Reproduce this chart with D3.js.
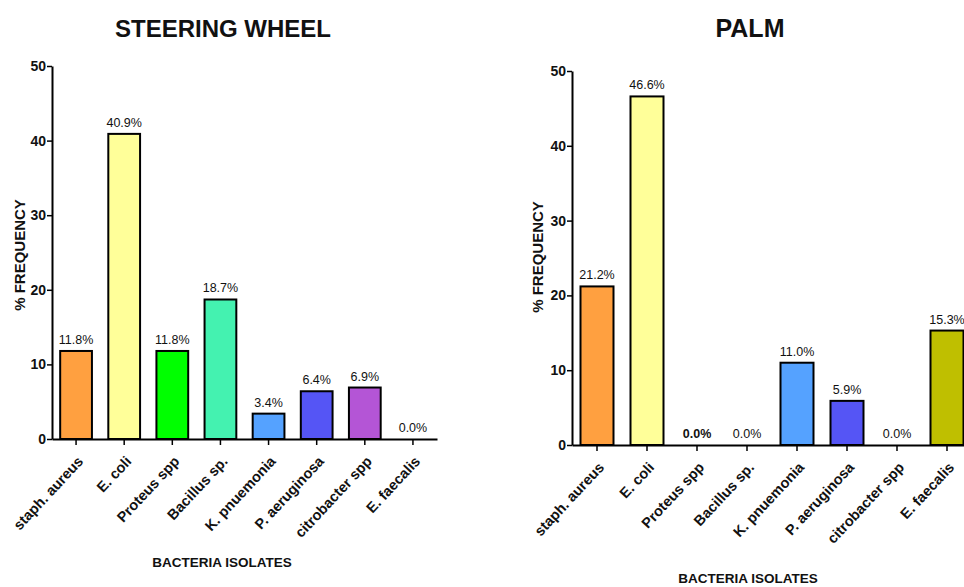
<!DOCTYPE html>
<html>
<head>
<meta charset="utf-8">
<script src="https://cdn.jsdelivr.net/npm/d3@7"></script>
<style>
  html, body { margin: 0; padding: 0; background: #fff; }
  svg { display: block; }
  text { font-family: "Liberation Sans", Arial, sans-serif; fill: #111; }
</style>
</head>
<body>
<svg id="chart" width="964" height="587"></svg>
<script>
const categories = ["staph. aureus", "E. coli", "Proteus spp", "Bacillus sp.", "K. pnuemonia", "P. aeruginosa", "citrobacter spp", "E. faecalis"];
const steeringValues = [11.8, 40.9, 11.8, 18.7, 3.4, 6.4, 6.9, 0.0];
const palmValues = [21.2, 46.6, 0.0, 0.0, 11.0, 5.9, 0.0, 15.3];
const barColors = ["#FFA040", "#FFFF99", "#00FF00", "#44F2B0", "#55A2FF", "#5555F5", "#B455D6", "#BFBF00"];
const yTicks = [0, 10, 20, 30, 40, 50];

const svg = d3.select("#chart");

function drawPanel(cfg) {
  const g = svg.append("g");
  const x = d3.scaleBand().domain(categories).range([cfg.x0, cfg.x1]).paddingInner(0.34).paddingOuter(0.17);
  const y = d3.scaleLinear().domain([0, 50]).range([cfg.y0, cfg.y1]);

  // bars
  g.selectAll("rect.bar").data(cfg.values).join("rect")
    .attr("class", "bar")
    .attr("x", (d, i) => x(categories[i]))
    .attr("width", x.bandwidth())
    .attr("y", d => y(d))
    .attr("height", d => y(0) - y(d))
    .attr("fill", (d, i) => barColors[i])
    .attr("stroke", d => d > 0 ? "#000" : "none")
    .attr("stroke-width", 2);

  // value labels
  g.selectAll("text.val").data(cfg.values).join("text")
    .attr("class", "val")
    .attr("x", (d, i) => x(categories[i]) + x.bandwidth() / 2)
    .attr("y", d => y(d) - 7)
    .attr("text-anchor", "middle")
    .style("font-size", "12.5px")
    .style("font-weight", (d, i) => (cfg.boldZero === i ? "bold" : "normal"))
    .text(d => d.toFixed(1) + "%");

  // y axis
  const yAxis = g.append("g").attr("transform", `translate(${cfg.x0},0)`)
    .call(d3.axisLeft(y).tickValues(yTicks).tickSize(5).tickPadding(1).tickSizeOuter(0));
  yAxis.select(".domain").attr("stroke", "#000").attr("stroke-width", 2);
  yAxis.selectAll(".tick line").attr("stroke", "#000").attr("stroke-width", 1.5);
  yAxis.selectAll(".tick text").style("font-size", "14px").style("font-weight", "bold")
    .style("font-family", "'Liberation Sans', Arial, sans-serif").attr("fill", "#111");

  // x axis
  const xAxis = g.append("g").attr("transform", `translate(0,${cfg.y0})`)
    .call(d3.axisBottom(x).tickSize(6).tickSizeOuter(0));
  xAxis.select(".domain").attr("stroke", "#000").attr("stroke-width", 2);
  xAxis.selectAll(".tick line").attr("stroke", "#000").attr("stroke-width", 1.5);
  xAxis.selectAll(".tick text")
    .attr("text-anchor", "end")
    .attr("x", null).attr("y", null).attr("dy", null)
    .attr("transform", "translate(8,23) rotate(-47)")
    .style("font-size", "14.5px").style("font-weight", "bold")
    .style("font-family", "'Liberation Sans', Arial, sans-serif").attr("fill", "#111");

  // titles
  g.append("text").attr("x", cfg.titleX).attr("y", 37).attr("text-anchor", "middle")
    .style("font-size", cfg.titleSize).style("font-weight", "bold").attr("fill", "#000").text(cfg.title);

  g.append("text").attr("transform", `translate(${cfg.yTitleX},${cfg.yTitleY}) rotate(-90)`)
    .attr("text-anchor", "middle").style("font-size", "15px").style("font-weight", "bold")
    .text("% FREQUENCY");

  g.append("text").attr("x", cfg.xTitleX).attr("y", cfg.xTitleY).attr("text-anchor", "middle")
    .style("font-size", "13.5px").style("font-weight", "bold").text("BACTERIA ISOLATES");
}

drawPanel({ values: steeringValues, title: "STEERING WHEEL", titleSize: "24px", titleX: 223, boldZero: -1,
  x0: 52, x1: 437, y0: 439, y1: 66, yTitleX: 25, yTitleY: 255, xTitleX: 222, xTitleY: 567 });
drawPanel({ values: palmValues, title: "PALM", titleSize: "25px", titleX: 750, boldZero: 2,
  x0: 572, x1: 972, y0: 445, y1: 71, yTitleX: 543, yTitleY: 257, xTitleX: 748, xTitleY: 583 });
</script>
</body>
</html>
